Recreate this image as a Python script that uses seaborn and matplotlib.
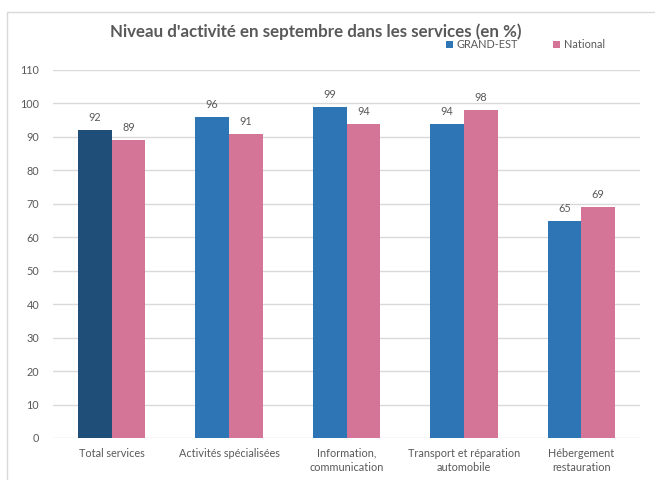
import matplotlib
matplotlib.use("Agg")
import matplotlib.pyplot as plt
import seaborn as sns
import pandas as pd
from matplotlib.lines import Line2D
from matplotlib.patches import Patch

categories = ["Total services", "Activités spécialisées", "Information,\ncommunication",
              "Transport et réparation\nautomobile", "Hébergement\nrestauration"]
series_names = ["GRAND-EST", "National"]
grand_est = [92, 96, 99, 94, 65]
national = [89, 91, 94, 98, 69]
yticks = list(range(0, 111, 10))
title = "Niveau d'activité en septembre dans les services (en %)"

df = pd.DataFrame({
    "cat": categories * 2,
    "serie": [series_names[0]] * len(categories) + [series_names[1]] * len(categories),
    "val": grand_est + national,
})

sns.set_theme(style="white")
plt.rcParams["font.family"] = ["Lato", "DejaVu Sans"]

W, H = 655, 480
fig = plt.figure(figsize=(W / 100, H / 100), dpi=100)
ax = fig.add_axes([53 / W, 42 / H, (640 - 53) / W, (438 - 70) / H])

blue = "#2E75B6"
dark = "#1F4E79"
pink = "#D47597"
txt = "#595959"
grid = "#D9D9D9"

sns.barplot(data=df, x="cat", y="val", hue="serie", order=categories,
            hue_order=series_names, palette=[blue, pink], width=0.575,
            gap=0, ax=ax, legend=False, saturation=1, edgecolor="none", linewidth=0)

# first GRAND-EST bar is darker
bars_ge = ax.containers[0]
bars_ge[0].set_facecolor(dark)

for cont in ax.containers:
    ax.bar_label(cont, fmt="%d", padding=5, fontsize=7.8, color=txt)

ax.set_ylim(0, 110)
ax.set_xlim(-0.5, len(categories) - 0.5)
ax.set_yticks(yticks)
ax.set_yticklabels([str(t) for t in yticks])
ax.yaxis.grid(True, color=grid, linewidth=1)
ax.set_axisbelow(True)
for s in ax.spines.values():
    s.set_visible(False)
ax.tick_params(axis="both", length=0, labelsize=7.8, colors=txt)
ax.tick_params(axis="y", pad=10)
ax.tick_params(axis="x", pad=7)
for lab in ax.get_xticklabels():
    lab.set_linespacing(1.35)
ax.set_xlabel("")
ax.set_ylabel("")

fig.text(315.5 / W, 1 - 32 / H, title, ha="center", va="center",
         fontsize=12.2, fontweight="bold", color=txt)

handles = [Patch(facecolor=blue, edgecolor="none"), Patch(facecolor=pink, edgecolor="none")]
fig.legend(handles, series_names, loc="center left",
           bbox_to_anchor=(446 / W, 1 - 45 / H), frameon=False, ncol=2,
           fontsize=7.8, handlelength=0.6, handleheight=0.65, handletextpad=0.35,
           columnspacing=3.3, borderpad=0, borderaxespad=0, labelcolor=txt)

fig.add_artist(Line2D([7 / W, 7 / W], [0, 1 - 12 / H], transform=fig.transFigure,
                      color=grid, linewidth=1))
fig.add_artist(Line2D([7 / W, 1], [1 - 12 / H, 1 - 12 / H], transform=fig.transFigure,
                      color=grid, linewidth=1))

fig.savefig("out.png", dpi=100, facecolor="white")
